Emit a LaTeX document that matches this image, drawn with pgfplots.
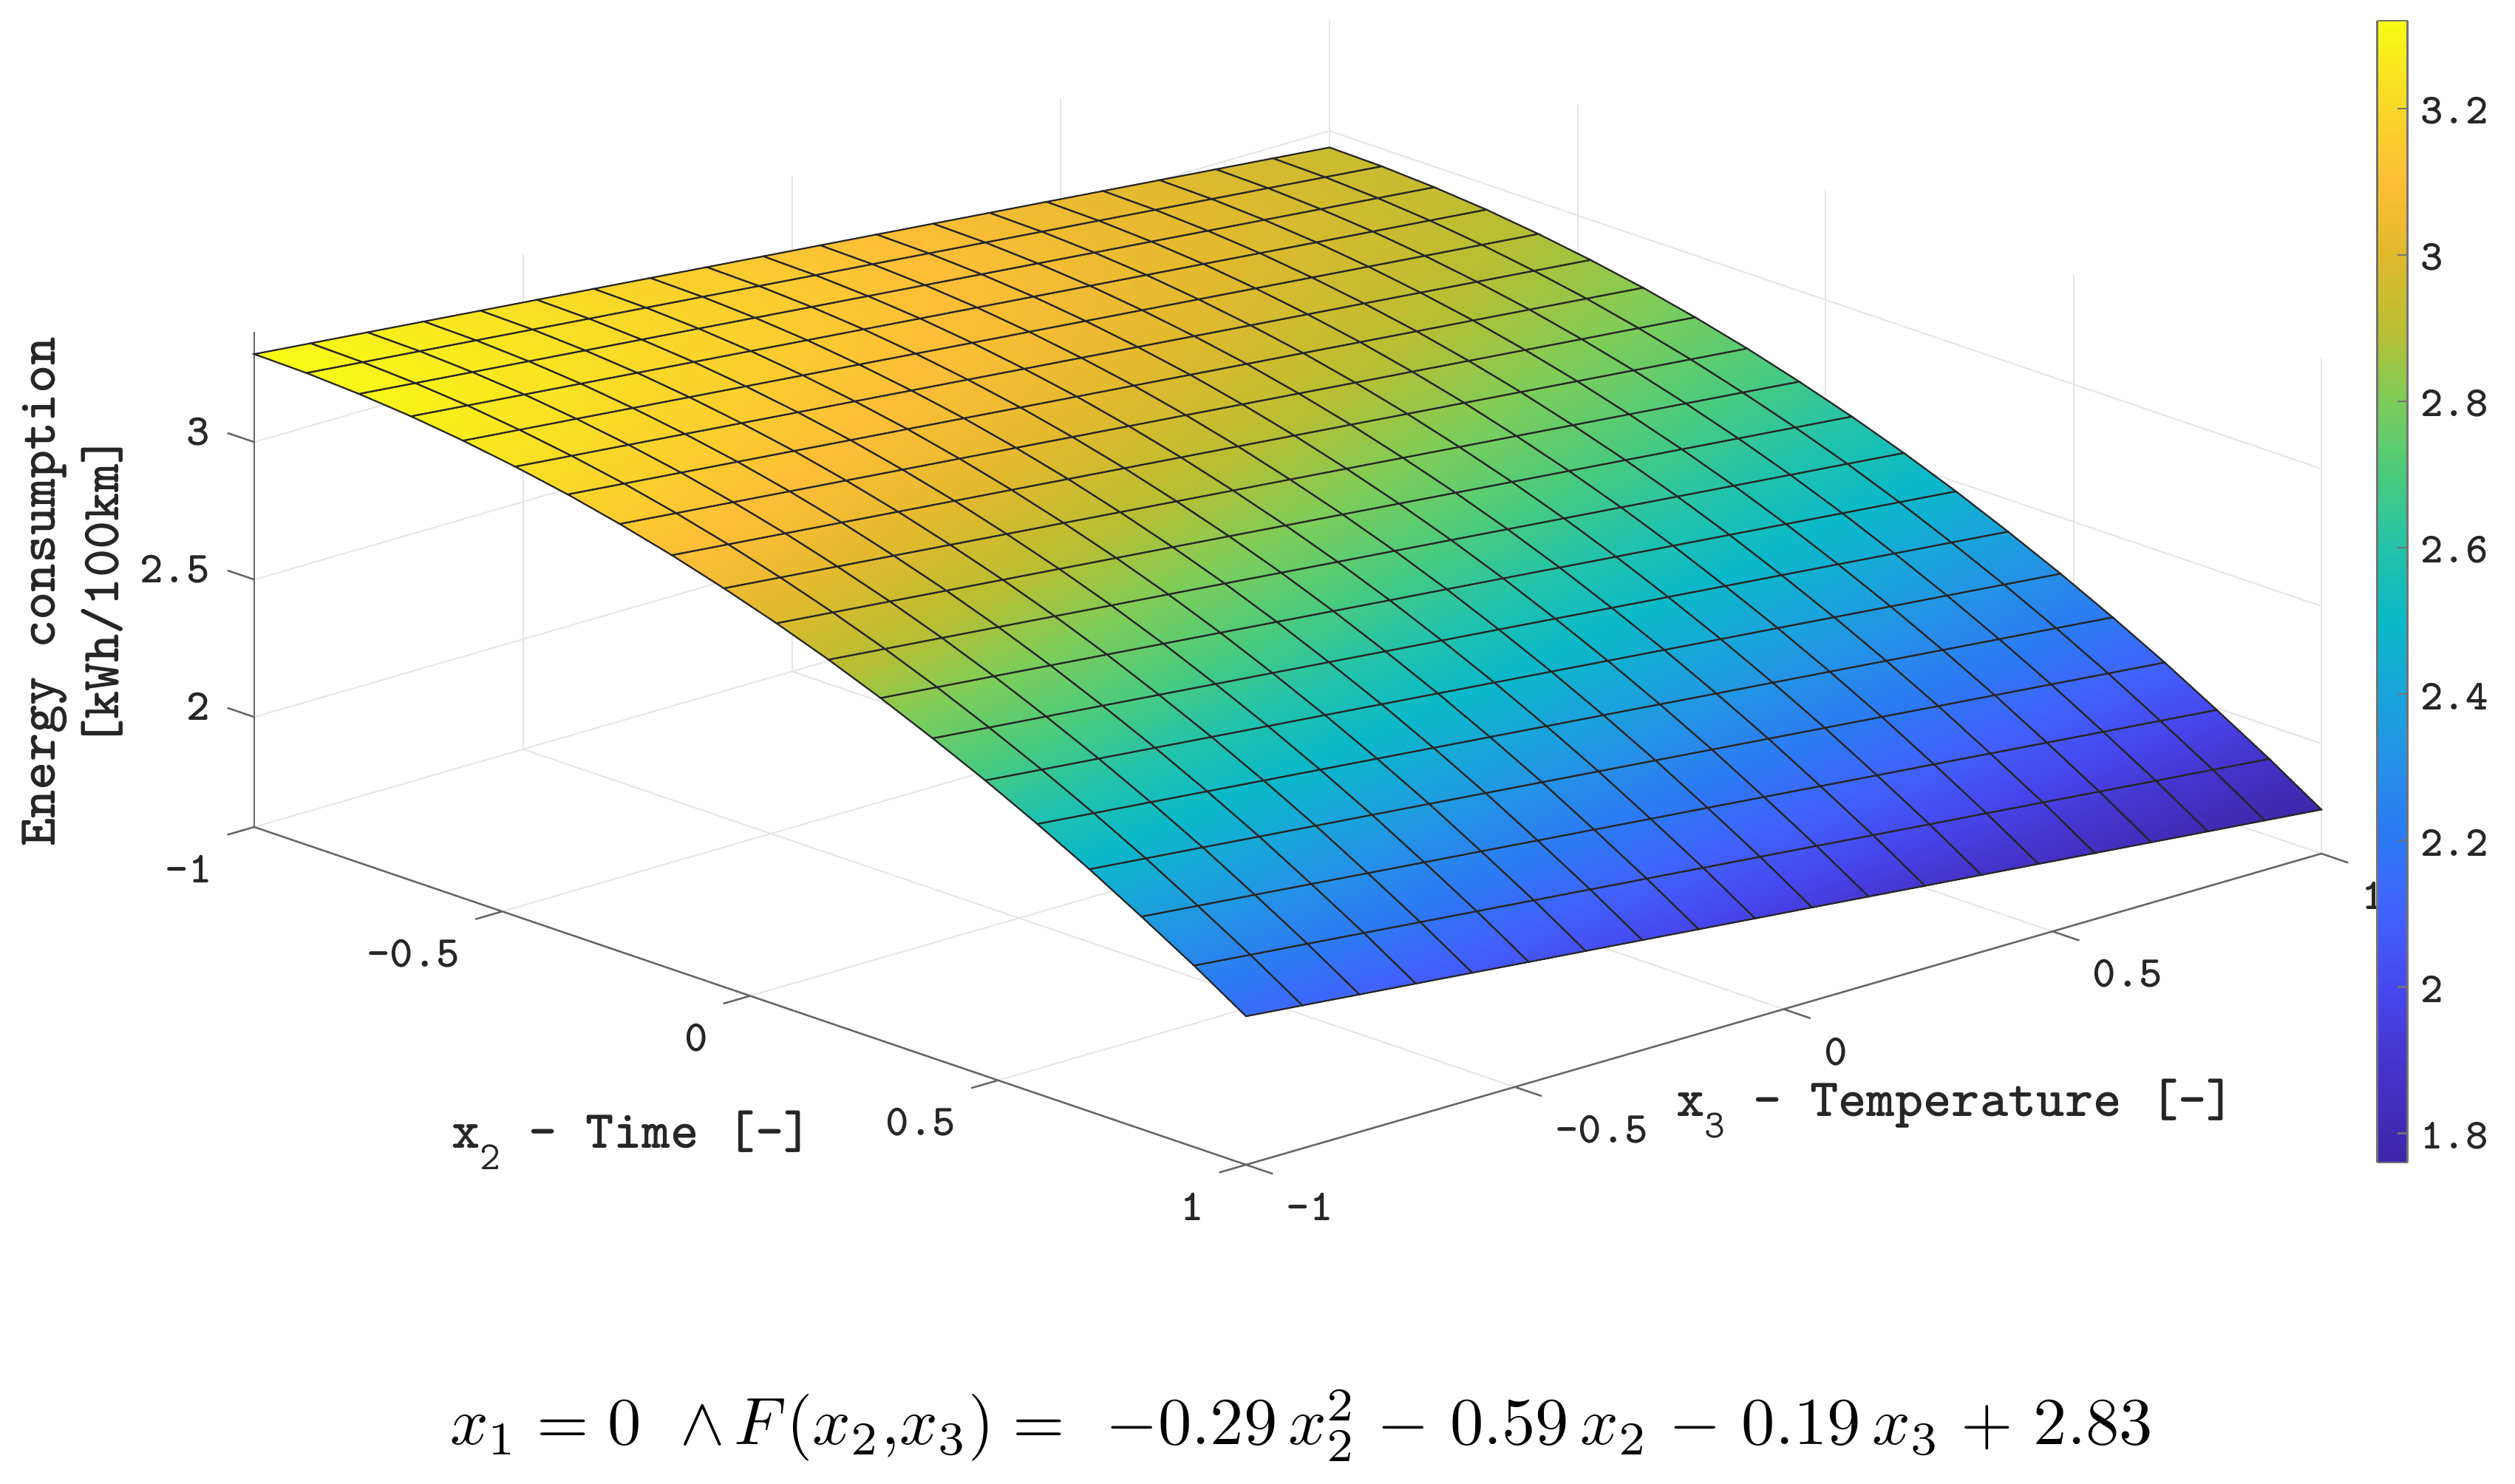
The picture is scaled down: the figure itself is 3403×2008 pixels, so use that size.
\documentclass[border=0pt]{standalone}
\usepackage{pgfplots}
\pgfplotsset{compat=1.18}
\pgfplotsset{tk/.style={forget plot,color=black!60,line width=2.5pt}}
\begin{document}
\begin{tikzpicture}
\path[use as bounding box] (0pt,0pt) rectangle (3403pt,2008pt);
\begin{axis}[
  at={(1742.5pt,871pt)}, anchor=origin,
  x={(671pt,-228.5pt)}, y={(727.5pt,210.5pt)}, z={(0pt,372pt)},
  xmin=-1,xmax=1,ymin=-1,ymax=1,zmin=1.6,zmax=3.4,
  clip=false,
  xtick={-1,-0.5,0,0.5,1}, xticklabels={-1,-0.5,0,0.5,1},
  ytick={-1,-0.5,0,0.5,1}, yticklabels={-1,-0.5,0,0.5,1},
  ztick={2,2.5,3}, zticklabels={2,2.5,3},
  axis line style={draw=none},
  grid=major,
  major grid style={line width=2pt,color=black!10},
  tick align=outside,
  major tick length=38pt,
  tick style={draw=none},
  tick label style={font=\fontsize{60}{62}\selectfont\ttfamily\bfseries,text=black!85},
  xticklabel style={anchor=east,xshift=-17pt,yshift=-46pt},
  yticklabel style={anchor=west,xshift=15pt,yshift=-45pt},
  zticklabel style={anchor=east,xshift=-20pt,yshift=25pt},
  xlabel={x\raisebox{-0.4em}{\fontsize{54}{54}\selectfont\mdseries 2} - Time [-]},
  ylabel={x\raisebox{-0.4em}{\fontsize{54}{54}\selectfont\mdseries 3} - Temperature [-]},
  zlabel={Energy consumption\\{[kWh/100km]}},
  every axis x label/.style={at={(axis cs:0.353,-1.5455,1.6)},anchor=center,font=\fontsize{73}{86}\selectfont\ttfamily\bfseries,text=black!85},
  every axis y label/.style={at={(axis cs:1.4774,-0.1207,1.6)},anchor=center,font=\fontsize{73}{86}\selectfont\ttfamily\bfseries,text=black!85},
  every axis z label/.style={at={(axis cs:-1.9208,-0.4888,1.6)},anchor=center,rotate=90,align=center,font=\fontsize{73}{86}\selectfont\ttfamily\bfseries,text=black!85},
  colormap={parula}{rgb255(176pt)=(62,38,168) rgb255(190pt)=(70,52,205) rgb255(200pt)=(70,72,240) rgb255(210pt)=(65,98,252) rgb255(220pt)=(45,120,245) rgb255(230pt)=(38,142,232) rgb255(240pt)=(25,165,218) rgb255(250pt)=(10,185,200) rgb255(260pt)=(35,195,170) rgb255(270pt)=(75,203,125) rgb255(280pt)=(125,205,90) rgb255(290pt)=(185,190,50) rgb255(300pt)=(225,185,45) rgb255(310pt)=(254,190,55) rgb255(320pt)=(250,215,40) rgb255(332pt)=(249,251,20)},
  colorbar sampled,
  colorbar style={
    at={(parent axis.origin)}, anchor=south west,
    xshift=1465.5pt, yshift=-436pt,
    scale only axis, width=41pt, height=1545pt,
    samples=157,
    ytick={1.8,2,2.2,2.4,2.6,2.8,3,3.2},
    yticklabels={1.8,2,2.2,2.4,2.6,2.8,3,3.2},
    tick align=inside, major tick length=14pt,
    ytick pos=right, yticklabel pos=right,
    tick style={line width=2.5pt,color=black!55},
    axis line style={line width=2.5pt,color=black!55},
    yticklabel style={anchor=west,xshift=14pt,yshift=-3pt,font=\fontsize{58}{60}\selectfont\ttfamily\bfseries,text=black!85},
  },
]
\addplot3[tk] coordinates {(-1,-1,1.6)(1,-1,1.6)};
\addplot3[tk] coordinates {(1,-1,1.6)(1,1,1.6)};
\addplot3[tk] coordinates {(-1,-1,1.6)(-1,-1,3.4)};
\addplot3[tk] coordinates {(-1,-1,1.6)(-1,-1.05,1.6)};
\addplot3[tk] coordinates {(-0.5,-1,1.6)(-0.5,-1.05,1.6)};
\addplot3[tk] coordinates {(0,-1,1.6)(0,-1.05,1.6)};
\addplot3[tk] coordinates {(0.5,-1,1.6)(0.5,-1.05,1.6)};
\addplot3[tk] coordinates {(1,-1,1.6)(1,-1.05,1.6)};
\addplot3[tk] coordinates {(1,-1,1.6)(1.054,-1,1.6)};
\addplot3[tk] coordinates {(1,-0.5,1.6)(1.054,-0.5,1.6)};
\addplot3[tk] coordinates {(1,0,1.6)(1.054,0,1.6)};
\addplot3[tk] coordinates {(1,0.5,1.6)(1.054,0.5,1.6)};
\addplot3[tk] coordinates {(1,1,1.6)(1.054,1,1.6)};
\addplot3[tk] coordinates {(-1,-1,2)(-1.054,-1,2)};
\addplot3[tk] coordinates {(-1,-1,2.5)(-1.054,-1,2.5)};
\addplot3[tk] coordinates {(-1,-1,3)(-1.054,-1,3)};
\addplot3[surf,shader=faceted interp,faceted color=black!85,line width=2.2pt,mesh/rows=20,mesh/cols=20,point meta=z] coordinates {
(-1,-1,3.32)(-1,-0.895,3.30)(-1,-0.789,3.28)(-1,-0.684,3.26)(-1,-0.579,3.24)(-1,-0.474,3.22)(-1,-0.368,3.20)(-1,-0.263,3.18)(-1,-0.158,3.16)(-1,-0.053,3.14)(-1,0.053,3.12)(-1,0.158,3.10)(-1,0.263,3.08)(-1,0.368,3.06)(-1,0.474,3.04)(-1,0.579,3.02)(-1,0.684,3.00)(-1,0.789,2.98)(-1,0.895,2.96)(-1,1,2.94)
(-0.895,-1,3.316)(-0.895,-0.895,3.296)(-0.895,-0.789,3.276)(-0.895,-0.684,3.256)(-0.895,-0.579,3.236)(-0.895,-0.474,3.216)(-0.895,-0.368,3.196)(-0.895,-0.263,3.176)(-0.895,-0.158,3.156)(-0.895,-0.053,3.136)(-0.895,0.053,3.116)(-0.895,0.158,3.096)(-0.895,0.263,3.076)(-0.895,0.368,3.056)(-0.895,0.474,3.036)(-0.895,0.579,3.016)(-0.895,0.684,2.996)(-0.895,0.789,2.976)(-0.895,0.895,2.956)(-0.895,1,2.936)
(-0.789,-1,3.305)(-0.789,-0.895,3.285)(-0.789,-0.789,3.265)(-0.789,-0.684,3.245)(-0.789,-0.579,3.225)(-0.789,-0.474,3.205)(-0.789,-0.368,3.185)(-0.789,-0.263,3.165)(-0.789,-0.158,3.145)(-0.789,-0.053,3.125)(-0.789,0.053,3.105)(-0.789,0.158,3.085)(-0.789,0.263,3.065)(-0.789,0.368,3.045)(-0.789,0.474,3.025)(-0.789,0.579,3.005)(-0.789,0.684,2.985)(-0.789,0.789,2.965)(-0.789,0.895,2.945)(-0.789,1,2.925)
(-0.684,-1,3.288)(-0.684,-0.895,3.268)(-0.684,-0.789,3.248)(-0.684,-0.684,3.228)(-0.684,-0.579,3.208)(-0.684,-0.474,3.188)(-0.684,-0.368,3.168)(-0.684,-0.263,3.148)(-0.684,-0.158,3.128)(-0.684,-0.053,3.108)(-0.684,0.053,3.088)(-0.684,0.158,3.068)(-0.684,0.263,3.048)(-0.684,0.368,3.028)(-0.684,0.474,3.008)(-0.684,0.579,2.988)(-0.684,0.684,2.968)(-0.684,0.789,2.948)(-0.684,0.895,2.928)(-0.684,1,2.908)
(-0.579,-1,3.264)(-0.579,-0.895,3.244)(-0.579,-0.789,3.224)(-0.579,-0.684,3.204)(-0.579,-0.579,3.184)(-0.579,-0.474,3.164)(-0.579,-0.368,3.144)(-0.579,-0.263,3.124)(-0.579,-0.158,3.104)(-0.579,-0.053,3.084)(-0.579,0.053,3.064)(-0.579,0.158,3.044)(-0.579,0.263,3.024)(-0.579,0.368,3.004)(-0.579,0.474,2.984)(-0.579,0.579,2.964)(-0.579,0.684,2.944)(-0.579,0.789,2.924)(-0.579,0.895,2.904)(-0.579,1,2.884)
(-0.474,-1,3.234)(-0.474,-0.895,3.214)(-0.474,-0.789,3.194)(-0.474,-0.684,3.174)(-0.474,-0.579,3.154)(-0.474,-0.474,3.134)(-0.474,-0.368,3.114)(-0.474,-0.263,3.094)(-0.474,-0.158,3.074)(-0.474,-0.053,3.054)(-0.474,0.053,3.034)(-0.474,0.158,3.014)(-0.474,0.263,2.994)(-0.474,0.368,2.974)(-0.474,0.474,2.954)(-0.474,0.579,2.934)(-0.474,0.684,2.914)(-0.474,0.789,2.894)(-0.474,0.895,2.874)(-0.474,1,2.854)
(-0.368,-1,3.198)(-0.368,-0.895,3.178)(-0.368,-0.789,3.158)(-0.368,-0.684,3.138)(-0.368,-0.579,3.118)(-0.368,-0.474,3.098)(-0.368,-0.368,3.078)(-0.368,-0.263,3.058)(-0.368,-0.158,3.038)(-0.368,-0.053,3.018)(-0.368,0.053,2.998)(-0.368,0.158,2.978)(-0.368,0.263,2.958)(-0.368,0.368,2.938)(-0.368,0.474,2.918)(-0.368,0.579,2.898)(-0.368,0.684,2.878)(-0.368,0.789,2.858)(-0.368,0.895,2.838)(-0.368,1,2.818)
(-0.263,-1,3.155)(-0.263,-0.895,3.135)(-0.263,-0.789,3.115)(-0.263,-0.684,3.095)(-0.263,-0.579,3.075)(-0.263,-0.474,3.055)(-0.263,-0.368,3.035)(-0.263,-0.263,3.015)(-0.263,-0.158,2.995)(-0.263,-0.053,2.975)(-0.263,0.053,2.955)(-0.263,0.158,2.935)(-0.263,0.263,2.915)(-0.263,0.368,2.895)(-0.263,0.474,2.875)(-0.263,0.579,2.855)(-0.263,0.684,2.835)(-0.263,0.789,2.815)(-0.263,0.895,2.795)(-0.263,1,2.775)
(-0.158,-1,3.106)(-0.158,-0.895,3.086)(-0.158,-0.789,3.066)(-0.158,-0.684,3.046)(-0.158,-0.579,3.026)(-0.158,-0.474,3.006)(-0.158,-0.368,2.986)(-0.158,-0.263,2.966)(-0.158,-0.158,2.946)(-0.158,-0.053,2.926)(-0.158,0.053,2.906)(-0.158,0.158,2.886)(-0.158,0.263,2.866)(-0.158,0.368,2.846)(-0.158,0.474,2.826)(-0.158,0.579,2.806)(-0.158,0.684,2.786)(-0.158,0.789,2.766)(-0.158,0.895,2.746)(-0.158,1,2.726)
(-0.053,-1,3.05)(-0.053,-0.895,3.03)(-0.053,-0.789,3.01)(-0.053,-0.684,2.99)(-0.053,-0.579,2.97)(-0.053,-0.474,2.95)(-0.053,-0.368,2.93)(-0.053,-0.263,2.91)(-0.053,-0.158,2.89)(-0.053,-0.053,2.87)(-0.053,0.053,2.85)(-0.053,0.158,2.83)(-0.053,0.263,2.81)(-0.053,0.368,2.79)(-0.053,0.474,2.77)(-0.053,0.579,2.75)(-0.053,0.684,2.73)(-0.053,0.789,2.71)(-0.053,0.895,2.69)(-0.053,1,2.67)
(0.053,-1,2.988)(0.053,-0.895,2.968)(0.053,-0.789,2.948)(0.053,-0.684,2.928)(0.053,-0.579,2.908)(0.053,-0.474,2.888)(0.053,-0.368,2.868)(0.053,-0.263,2.848)(0.053,-0.158,2.828)(0.053,-0.053,2.808)(0.053,0.053,2.788)(0.053,0.158,2.768)(0.053,0.263,2.748)(0.053,0.368,2.728)(0.053,0.474,2.708)(0.053,0.579,2.688)(0.053,0.684,2.668)(0.053,0.789,2.648)(0.053,0.895,2.628)(0.053,1,2.608)
(0.158,-1,2.92)(0.158,-0.895,2.90)(0.158,-0.789,2.88)(0.158,-0.684,2.86)(0.158,-0.579,2.84)(0.158,-0.474,2.82)(0.158,-0.368,2.80)(0.158,-0.263,2.78)(0.158,-0.158,2.76)(0.158,-0.053,2.74)(0.158,0.053,2.72)(0.158,0.158,2.70)(0.158,0.263,2.68)(0.158,0.368,2.66)(0.158,0.474,2.64)(0.158,0.579,2.62)(0.158,0.684,2.60)(0.158,0.789,2.58)(0.158,0.895,2.56)(0.158,1,2.54)
(0.263,-1,2.845)(0.263,-0.895,2.825)(0.263,-0.789,2.805)(0.263,-0.684,2.785)(0.263,-0.579,2.765)(0.263,-0.474,2.745)(0.263,-0.368,2.725)(0.263,-0.263,2.705)(0.263,-0.158,2.685)(0.263,-0.053,2.665)(0.263,0.053,2.645)(0.263,0.158,2.625)(0.263,0.263,2.605)(0.263,0.368,2.585)(0.263,0.474,2.565)(0.263,0.579,2.545)(0.263,0.684,2.525)(0.263,0.789,2.505)(0.263,0.895,2.485)(0.263,1,2.465)
(0.368,-1,2.763)(0.368,-0.895,2.743)(0.368,-0.789,2.723)(0.368,-0.684,2.703)(0.368,-0.579,2.683)(0.368,-0.474,2.663)(0.368,-0.368,2.643)(0.368,-0.263,2.623)(0.368,-0.158,2.603)(0.368,-0.053,2.583)(0.368,0.053,2.563)(0.368,0.158,2.543)(0.368,0.263,2.523)(0.368,0.368,2.503)(0.368,0.474,2.483)(0.368,0.579,2.463)(0.368,0.684,2.443)(0.368,0.789,2.423)(0.368,0.895,2.403)(0.368,1,2.383)
(0.474,-1,2.675)(0.474,-0.895,2.655)(0.474,-0.789,2.635)(0.474,-0.684,2.615)(0.474,-0.579,2.595)(0.474,-0.474,2.575)(0.474,-0.368,2.555)(0.474,-0.263,2.535)(0.474,-0.158,2.515)(0.474,-0.053,2.495)(0.474,0.053,2.475)(0.474,0.158,2.455)(0.474,0.263,2.435)(0.474,0.368,2.415)(0.474,0.474,2.395)(0.474,0.579,2.375)(0.474,0.684,2.355)(0.474,0.789,2.335)(0.474,0.895,2.315)(0.474,1,2.295)
(0.579,-1,2.581)(0.579,-0.895,2.561)(0.579,-0.789,2.541)(0.579,-0.684,2.521)(0.579,-0.579,2.501)(0.579,-0.474,2.481)(0.579,-0.368,2.461)(0.579,-0.263,2.441)(0.579,-0.158,2.421)(0.579,-0.053,2.401)(0.579,0.053,2.381)(0.579,0.158,2.361)(0.579,0.263,2.341)(0.579,0.368,2.321)(0.579,0.474,2.301)(0.579,0.579,2.281)(0.579,0.684,2.261)(0.579,0.789,2.241)(0.579,0.895,2.221)(0.579,1,2.201)
(0.684,-1,2.481)(0.684,-0.895,2.461)(0.684,-0.789,2.441)(0.684,-0.684,2.421)(0.684,-0.579,2.401)(0.684,-0.474,2.381)(0.684,-0.368,2.361)(0.684,-0.263,2.341)(0.684,-0.158,2.321)(0.684,-0.053,2.301)(0.684,0.053,2.281)(0.684,0.158,2.261)(0.684,0.263,2.241)(0.684,0.368,2.221)(0.684,0.474,2.201)(0.684,0.579,2.181)(0.684,0.684,2.161)(0.684,0.789,2.141)(0.684,0.895,2.121)(0.684,1,2.101)
(0.789,-1,2.373)(0.789,-0.895,2.353)(0.789,-0.789,2.333)(0.789,-0.684,2.313)(0.789,-0.579,2.293)(0.789,-0.474,2.273)(0.789,-0.368,2.253)(0.789,-0.263,2.233)(0.789,-0.158,2.213)(0.789,-0.053,2.193)(0.789,0.053,2.173)(0.789,0.158,2.153)(0.789,0.263,2.133)(0.789,0.368,2.113)(0.789,0.474,2.093)(0.789,0.579,2.073)(0.789,0.684,2.053)(0.789,0.789,2.033)(0.789,0.895,2.013)(0.789,1,1.993)
(0.895,-1,2.26)(0.895,-0.895,2.24)(0.895,-0.789,2.22)(0.895,-0.684,2.20)(0.895,-0.579,2.18)(0.895,-0.474,2.16)(0.895,-0.368,2.14)(0.895,-0.263,2.12)(0.895,-0.158,2.10)(0.895,-0.053,2.08)(0.895,0.053,2.06)(0.895,0.158,2.04)(0.895,0.263,2.02)(0.895,0.368,2.00)(0.895,0.474,1.98)(0.895,0.579,1.96)(0.895,0.684,1.94)(0.895,0.789,1.92)(0.895,0.895,1.90)(0.895,1,1.88)
(1,-1,2.14)(1,-0.895,2.12)(1,-0.789,2.10)(1,-0.684,2.08)(1,-0.579,2.06)(1,-0.474,2.04)(1,-0.368,2.02)(1,-0.263,2.00)(1,-0.158,1.98)(1,-0.053,1.96)(1,0.053,1.94)(1,0.158,1.92)(1,0.263,1.90)(1,0.368,1.88)(1,0.474,1.86)(1,0.579,1.84)(1,0.684,1.82)(1,0.789,1.80)(1,0.895,1.78)(1,1,1.76)
};
\end{axis}
\node[anchor=base] at (1761pt,53pt) {\scalebox{9.07}{$\medmuskip=5.5mu x_1=0\;\wedge\! F(x_2{,}x_3)=\ -0.29\,x_2^2-0.59\,x_2-0.19\,x_3+2.83$}};
\end{tikzpicture}
\end{document}
